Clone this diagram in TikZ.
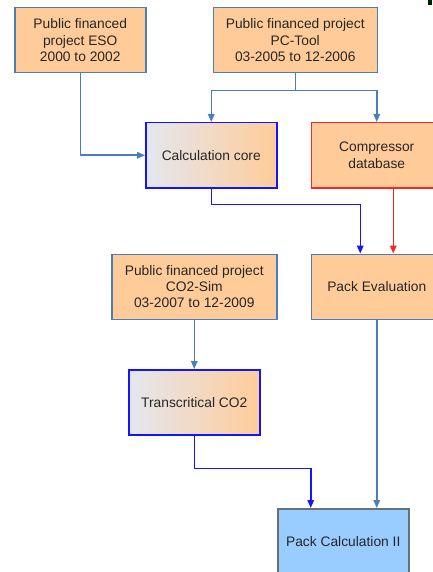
\documentclass[tikz,border=0pt]{standalone}
\usepackage{fontspec}
\setmainfont{Liberation Sans}
\usepackage{xcolor}
\usetikzlibrary{%
  arrows.meta,
  positioning,
  calc}
\definecolor{boxorange}{HTML}{FFCC99}
\definecolor{steelline}{HTML}{4A7EBB}
\definecolor{coreblue}{HTML}{1414FF}
\definecolor{dbred}{HTML}{FF2424}
\definecolor{calcfill}{HTML}{99CCFF}
\definecolor{calcline}{HTML}{6A7078}
\definecolor{shadegray}{HTML}{E4E7F0}
\definecolor{textgray}{HTML}{262626}
\tikzset{
  %% Project boxes
  projbox/.style={
    rectangle, draw=steelline, fill=boxorange, line width=1.5pt,
    minimum width=131pt, minimum height=65pt, inner sep=0pt,
    align=center, text=textgray,
    font=\fontsize{13.8}{16.3}\selectfont},
  %% Shaded core boxes
  corebox/.style={
    projbox, draw=coreblue,
    left color=shadegray, right color=boxorange},
  %% Database box
  dbbox/.style={projbox, draw=dbred},
  %% Final calculation box
  calcbox/.style={projbox, draw=calcline, fill=calcfill},
  %% Arrows
  arrow/.style={-{Triangle[length=8pt,width=6.5pt]}, line width=1.5pt, steelline},
  barrow/.style={arrow, coreblue},
  rarrow/.style={arrow, dbred},
}

\begin{document}
\begin{tikzpicture}[x=1pt, y=1pt]

  \useasboundingbox (0,0) rectangle (432,-572);

  \node[projbox, anchor=north west] (eso) at (14,-7)
        {Public financed\\ project ESO\\ 2000 to 2002};

  \node[projbox, right=66pt of eso, minimum width=164pt] (pctool)
        {Public financed project\\ PC-Tool\\ 03-2005 to 12-2006};

  \node[corebox, anchor=north west] (core) at (145,-122)
        {Calculation core};

  \node[dbbox, right=33pt of core] (compdb)
        {Compressor\\ database};

  \node[projbox, below=65pt of compdb] (eval)
        {Pack Evaluation};

  \node[projbox, left=33pt of eval, minimum width=165pt] (co2sim)
        {Public financed project\\ CO2-Sim\\ 03-2007 to 12-2009};

  \node[corebox, below=49pt of co2sim] (trans)
        {Transcritical CO2};

  \node[calcbox, anchor=north west] (packcalc) at (277,-508)
        {Pack Calculation II};

  \coordinate (split) at ($(pctool.south)+(0,-17)$);

  %% Project inputs
  \draw[arrow] (eso.south) |- (core.west);
  \draw[arrow] (pctool.south) -- (split) -| (core.north);
  \draw[arrow] (split) -| (compdb.north);

  %% Into evaluation
  \draw[barrow] (core.south) -- ++(0,-16) -| ([xshift=-16.5pt]eval.north);
  \draw[rarrow] ([xshift=16.5pt]compdb.south) -- ([xshift=16.5pt]eval.north);

  %% CO2 branch
  \draw[arrow] (co2sim.south) -- (trans.north);
  \draw[barrow] (trans.south) -- ++(0,-33) -| ([xshift=-32.5pt]packcalc.north);
  \draw[arrow] (eval.south) -- (eval.south |- packcalc.north);

  \fill[black!80!green!60!black] (428,0) rectangle (432,-5);

\end{tikzpicture}
\end{document}
